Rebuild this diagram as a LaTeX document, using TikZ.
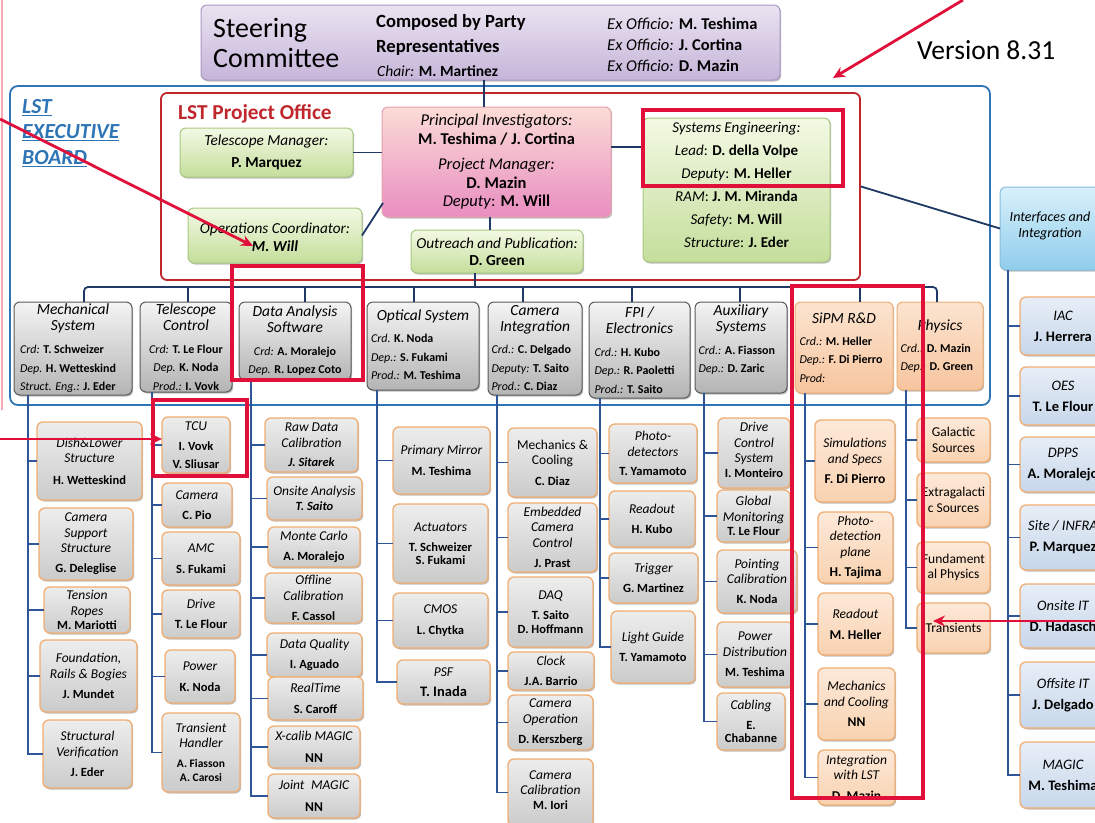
\documentclass[tikz,border=0pt]{standalone}
\usepackage{fontspec}
\setmainfont{Carlito}
\usetikzlibrary{shadows,arrows.meta,calc}
\definecolor{navy}{HTML}{1F3864}
\definecolor{colblue}{HTML}{2F5597}
\definecolor{boardblue}{HTML}{2E75B6}
\definecolor{pored}{HTML}{C0272D}
\definecolor{hlred}{HTML}{E0103A}
\definecolor{orbord}{HTML}{F0AE72}
\definecolor{hdrbord}{HTML}{5A5A5A}
\definecolor{hdrtop}{HTML}{F4F4F4}
\definecolor{hdrbot}{HTML}{B4B4B4}
\definecolor{subtop}{HTML}{EDEDED}
\definecolor{subbot}{HTML}{CBCBCB}
\definecolor{otop}{HTML}{FDE9D9}
\definecolor{obot}{HTML}{F9D2B0}
\definecolor{ohtop}{HTML}{FCE4D0}
\definecolor{ohbot}{HTML}{F7C59E}
\definecolor{btop}{HTML}{E7EEF7}
\definecolor{bbot}{HTML}{C7D7EA}
\definecolor{gtop}{HTML}{F3F9E4}
\definecolor{gbot}{HTML}{C4DE9B}
\definecolor{gbord}{HTML}{A8C882}
\definecolor{pitop}{HTML}{FBDCD6}
\definecolor{pibot}{HTML}{E98DC0}
\definecolor{pibord}{HTML}{E4A0AE}
\definecolor{sttop}{HTML}{EAE3F1}
\definecolor{stbot}{HTML}{C6B5D9}
\definecolor{stbord}{HTML}{A998C2}
\definecolor{iftop}{HTML}{D8F0FB}
\definecolor{ifbot}{HTML}{8FCDEB}
\definecolor{ifbord}{HTML}{86BEDC}
\definecolor{pinkline}{HTML}{F5A9B0}
\newcommand{\ttl}[1]{{\itshape #1}}
\newcommand{\nme}[1]{{\fontsize{12.5}{14}\selectfont\bfseries #1}}
\newcommand{\nmi}[1]{{\fontsize{12.5}{14}\selectfont\bfseries\itshape #1}}
\newcommand{\nmb}[1]{{\fontsize{13.5}{15}\selectfont\bfseries #1}}
\newcommand{\nmr}[1]{{\fontsize{14.5}{15}\selectfont\bfseries #1}}
\newcommand{\hbody}[2]{\makebox[#1][l]{\fontsize{12}{14}\selectfont #2}}
\newcommand{\cbody}[1]{{\fontsize{12}{14}\selectfont #1}}
\newcommand{\ix}[1]{\textit{#1}}
\newcommand{\bfx}[1]{\textbf{#1}}
\newcommand{\bx}[9][0]{%
  \node[#3, minimum width={(#7)-(#5)}, minimum height={(#8)-(#6)}] (#2) at ({((#5)+(#7))/2},{((#6)+(#8))/2}) {};
  \node[#4] (#2-t) at ({((#5)+(#7))/2},{((#6)+(#8))/2+(#1)}) {#9};}
\tikzset{
  basebox/.style={rounded corners=6pt, inner sep=0pt, outer sep=0pt,
    drop shadow={shadow xshift=1.2pt, shadow yshift=-1.5pt, opacity=0.25, fill=black}},
  hdrbox/.style={basebox, draw=hdrbord, line width=1pt, top color=hdrtop, bottom color=hdrbot},
  subbox/.style={basebox, draw=orbord, line width=1.3pt, top color=subtop, bottom color=subbot},
  osubbox/.style={basebox, draw=orbord, line width=1.3pt, top color=otop, bottom color=obot},
  ohdrbox/.style={basebox, draw=orbord, line width=1pt, top color=ohtop, bottom color=ohbot},
  bsubbox/.style={basebox, draw=orbord, line width=1.3pt, top color=btop, bottom color=bbot},
  gbox/.style={basebox, draw=gbord, line width=1pt, top color=gtop, bottom color=gbot},
  pibox/.style={basebox, draw=pibord, line width=1pt, top color=pitop, bottom color=pibot},
  steerbox/.style={basebox, draw=stbord, line width=1pt, top color=sttop, bottom color=stbot},
  ifbox/.style={basebox, draw=ifbord, line width=1pt, top color=iftop, bottom color=ifbot},
  boardbox/.style={draw=boardblue, line width=1.8pt, rounded corners=8pt, inner sep=0pt},
  pobox/.style={draw=pored, line width=1.8pt, rounded corners=6pt, inner sep=0pt},
  subt/.style={align=center, inner sep=0pt, font=\fontsize{13.5}{15.5}\selectfont},
  hdrt/.style={align=center, inner sep=0pt, font=\fontsize{15.5}{18.5}\selectfont},
  topt/.style={align=center, inner sep=0pt, font=\fontsize{15.3}{22}\selectfont},
  sety/.style={align=center, inner sep=0pt, font=\fontsize{15}{23}\selectfont},
  pit/.style={align=center, inner sep=0pt, font=\fontsize{16.5}{18.5}\selectfont},
  ift/.style={align=center, inner sep=0pt, font=\fontsize{14}{16}\selectfont},
  bsubt/.style={align=center, inner sep=0pt, font=\fontsize{14.5}{15.5}\selectfont},
  conn/.style={draw=navy, line width=1.8pt},
  cline/.style={draw=colblue, line width=1.8pt},
  hlbox/.style={draw=hlred, line width=4pt},
  redarrow/.style={draw=hlred, line width=2.8pt, -{Stealth[length=12pt,width=11pt]}},
}
\begin{document}
\begin{tikzpicture}[x=1pt,y=-1pt]
\useasboundingbox (0,0) rectangle (1095,822);
\clip (0,0) rectangle (1095,822);
\fill[white] (0,0) rectangle (1095,822);
\draw[pinkline, line width=1.2pt] (2,0) -- (2,410);

% frames
\bx{board}{boardbox}{subt}{10}{86}{990}{405}{}
\bx{po}{pobox}{subt}{161}{93}{860}{280}{}
\node[anchor=west, align=left, inner sep=0pt, text=boardblue, font=\fontsize{21.5}{25.5}\selectfont\bfseries\itshape] (lstexec) at (22,133) {\underline{LST}\\\underline{EXECUTIVE}\\\underline{BOARD}};
\node[anchor=west, inner sep=0pt, text=pored, font=\fontsize{21.3}{24}\selectfont\bfseries] (potitle) at (178,114) {LST Project Office};

% steering committee
\bx{steer}{steerbox}{subt}{201}{5}{780}{80}{}
\node[anchor=west, align=left, inner sep=0pt, font=\fontsize{28}{30}\selectfont] (steertitle) at (213,43) {Steering\\Committee};
\node[anchor=west, align=left, inner sep=0pt, font=\fontsize{18.6}{25}\selectfont\bfseries] (composed) at (376,35) {Composed by Party\\Representatives};
\node[anchor=west, inner sep=0pt, font=\fontsize{15.5}{17}\selectfont] (chair) at (377,71) {\ix{Chair:} \bfx{M. Martinez}};
\node[anchor=west, align=left, inner sep=0pt, font=\fontsize{16.5}{21}\selectfont] (exoff) at (607,45) {\ix{Ex Officio:} \bfx{M. Teshima}\\\ix{Ex Officio:} \bfx{J. Cortina}\\\ix{Ex Officio:} \bfx{D. Mazin}};
\node[anchor=west, inner sep=0pt, font=\fontsize{27.5}{30}\selectfont] (version) at (917,50) {Version 8.31};

% project office
\bx{tm}{gbox}{topt}{180}{128}{353}{177}{\ttl{Telescope Manager:}\\\bfx{P. Marquez}}
\bx[1.5]{ops}{gbox}{topt}{188}{208}{362}{263}{\ttl{Operations Coordinator:}\\[-4pt]{\bfseries\itshape M. Will}}
\bx{pi}{pibox}{pit}{382}{107}{611}{217}{\ttl{Principal Investigators:}\\\bfx{M. Teshima / J. Cortina}\\[7pt]\ttl{Project Manager:}\\\bfx{D. Mazin}\\\ix{Deputy}: \bfx{M. Will}}
\bx{outreach}{gbox}{topt}{411}{230}{583}{273}{\ttl{Outreach and Publication:}\\[-5pt]\bfx{D. Green}}
\bx[-5.5]{se}{gbox}{sety}{643}{118}{830}{262}{\ttl{Systems Engineering:}\\\ix{Lead}: \bfx{D. della Volpe}\\\ix{Deputy}: \bfx{M. Heller}\\\ix{RAM}: \bfx{J. M. Miranda}\\\ix{Safety}: \bfx{M. Will}\\\ix{Structure}: \bfx{J. Eder}}
\bx[-2.5]{iface}{ifbox}{ift}{1000}{187}{1100}{270}{\ttl{Interfaces and}\\\ttl{Integration}}

% headers
\bx{mech}{hdrbox}{hdrt}{14}{302}{132}{395}{\ttl{Mechanical}\\[-2.5pt]\ttl{System}\\[4.5pt]\hbody{106pt}{\ix{Crd:} \bfx{T. Schweizer}}\\\hbody{106pt}{\ix{Dep.} \bfx{H. Wetteskind}}\\\hbody{106pt}{\ix{Struct. Eng.:} \bfx{J. Eder}}}
\bx{telctl}{hdrbox}{hdrt}{140}{302}{232}{392}{\ttl{Telescope}\\[-3pt]\ttl{Control}\\[4.5pt]\cbody{\ix{Crd:} \bfx{T. Le Flour}}\\\cbody{\ix{Dep.} \bfx{K. Noda}}\\\cbody{\ix{Prod.:} \bfx{I. Vovk}}}
\bx{das}{hdrbox}{hdrt}{239}{302}{351}{380}{\ttl{Data Analysis}\\[-2.5pt]\ttl{Software}\\[4pt]\cbody{\ix{Crd:} \bfx{A. Moralejo}}\\\cbody{\ix{Dep.} \bfx{R. Lopez Coto}}}
\bx[-1]{optical}{hdrbox}{hdrt}{367}{302}{479}{390}{\ttl{Optical System}\\[3.5pt]\hbody{104pt}{\ix{Crd.} \bfx{K. Noda}}\\\hbody{104pt}{\ix{Dep.:} \bfx{S. Fukami}}\\\hbody{104pt}{\ix{Prod.:} \bfx{M. Teshima}}}
\bx{camint}{hdrbox}{hdrt}{488}{302}{582}{395}{\ttl{Camera}\\[-2.5pt]\ttl{Integration}\\[3.5pt]\hbody{87pt}{\ix{Crd.:} \bfx{C. Delgado}}\\\hbody{87pt}{\ix{Deputy:} \bfx{T. Saito}}\\\hbody{87pt}{\ix{Prod.:} \bfx{C. Diaz}}}
\bx{fpi}{hdrbox}{hdrt}{589}{302}{690}{398}{\ttl{FPI /}\\[-2.5pt]\ttl{Electronics}\\[4.5pt]\hbody{90pt}{\ix{Crd.:} \bfx{H. Kubo}}\\\hbody{90pt}{\ix{Dep.:} \bfx{R. Paoletti}}\\\hbody{90pt}{\ix{Prod.:} \bfx{T. Saito}}}
\bx[-8]{aux}{hdrbox}{hdrt}{695}{302}{787}{393}{\ttl{Auxiliary}\\[-2.5pt]\ttl{Systems}\\[4.5pt]\hbody{85pt}{\ix{Crd.:} \bfx{A. Fiasson}}\\\hbody{85pt}{\ix{Dep.:} \bfx{D. Zaric}}}
\bx{sipm}{ohdrbox}{hdrt}{795}{302}{893}{393}{\ttl{SiPM R\&D}\\[3.5pt]\hbody{89pt}{\ix{Crd.:} \bfx{M. Heller}}\\\hbody{89pt}{\ix{Dep.:} \bfx{F. Di Pierro}}\\\hbody{89pt}{\ix{Prod:}}}
\bx{physics}{ohdrbox}{hdrt}{897}{302}{983}{390}{\ttl{Physics}\\[3.5pt]\hbody{79pt}{\ix{Crd.:} \bfx{D. Mazin}}\\\hbody{79pt}{\ix{Dep.:} \bfx{D. Green}}}

% mechanical
\bx{dish}{subbox}{subt}{37}{422}{142}{500}{\ttl{Dish\&Lower}\\\ttl{Structure}\\[6pt]\nme{H. Wetteskind}}
\bx{camsup}{subbox}{subt}{39}{508}{133}{580}{\ttl{Camera}\\\ttl{Support}\\\ttl{Structure}\\[4.5pt]\nme{G. Deleglise}}
\bx{tension}{subbox}{subt}{44}{587}{130}{633}{\ttl{Tension}\\\ttl{Ropes}\\[-1pt]\nme{M. Mariotti}}
\bx{found}{subbox}{subt}{40}{640}{137}{712}{\ttl{Foundation,}\\\ttl{Rails \& Bogies}\\[5pt]\nme{J. Mundet}}
\bx{structv}{subbox}{subt}{43}{720}{132}{788}{\ttl{Structural}\\\ttl{Verification}\\[5pt]\nme{J. Eder}}
% telescope control
\bx{tcu}{subbox}{subt}{162}{417}{230}{473}{\ttl{TCU}\\[5pt]\nme{I. Vovk}\\[2pt]\nme{V. Sliusar}}
\bx{camera}{subbox}{subt}{162}{483}{232}{527}{\ttl{Camera}\\[5pt]\nme{C. Pio}}
\bx{amc}{subbox}{subt}{162}{532}{240}{585}{\ttl{AMC}\\[5pt]\nme{S. Fukami}}
\bx{drive}{subbox}{subt}{162}{590}{240}{638}{\ttl{Drive}\\[5pt]\nme{T. Le Flour}}
\bx{power}{subbox}{subt}{165}{650}{235}{703}{\ttl{Power}\\[5pt]\nme{K. Noda}}
\bx{transh}{subbox}{subt}{162}{713}{240}{792}{\ttl{Transient}\\\ttl{Handler}\\[4pt]{\fontsize{11.5}{13}\selectfont\bfseries A. Fiasson}\\[-1pt]{\fontsize{11.5}{13}\selectfont\bfseries A. Carosi}}
% data analysis
\bx{rawdata}{subbox}{subt}{265}{418}{358}{472}{\ttl{Raw Data}\\\ttl{Calibration}\\[4pt]\nmi{J. Sitarek}}
\bx{onsite}{subbox}{subt}{267}{477}{362}{520}{\ttl{Onsite Analysis}\\\nmi{T. Saito}}
\bx{mc}{subbox}{subt}{268}{527}{360}{567}{\ttl{Monte Carlo}\\[5pt]\nme{A. Moralejo}}
\bx{offline}{subbox}{subt}{265}{573}{362}{623}{\ttl{Offline}\\\ttl{Calibration}\\[5pt]\nme{F. Cassol}}
\bx{dq}{subbox}{subt}{267}{633}{362}{677}{\ttl{Data Quality}\\[5pt]\nme{I. Aguado}}
\bx{rt}{subbox}{subt}{268}{677}{363}{720}{\ttl{RealTime}\\[5pt]\nme{S. Caroff}}
\bx{xcalib}{subbox}{subt}{268}{726}{360}{768}{\ttl{X-calib MAGIC}\\[6pt]\nmb{NN}}
\bx{joint}{subbox}{subt}{268}{774}{360}{818}{\ttl{Joint\enspace MAGIC}\\[6pt]\nmb{NN}}
% optical
\bx{pm}{subbox}{subt}{393}{427}{490}{494}{\ttl{Primary Mirror}\\[5pt]\nme{M. Teshima}}
\bx{act}{subbox}{subt}{393}{504}{488}{583}{\ttl{Actuators}\\[5pt]\nme{T. Schweizer}\\[-2.5pt]\nme{S. Fukami}}
\bx{cmos}{subbox}{subt}{393}{593}{488}{648}{\ttl{CMOS}\\[5pt]\nme{L. Chytka}}
\bx{psf}{subbox}{subt}{397}{660}{490}{704}{\ttl{PSF}\\[5pt]\nmr{T. Inada}}
% camera integration
\bx{mechcool}{subbox}{subt}{508}{428}{597}{497}{Mechanics \&\\Cooling\\[5pt]\nme{C. Diaz}}
\bx{ecc}{subbox}{subt}{508}{503}{597}{572}{\ttl{Embedded}\\\ttl{Camera}\\\ttl{Control}\\[5pt]\nme{J. Prast}}
\bx{daq}{subbox}{subt}{508}{577}{593}{647}{\ttl{DAQ}\\[5pt]\nme{T. Saito}\\[-2pt]\nme{D. Hoffmann}}
\bx{clock}{subbox}{subt}{508}{652}{594}{690}{\ttl{Clock}\\[5pt]\nme{J.A. Barrio}}
\bx{camop}{subbox}{subt}{508}{695}{593}{750}{\ttl{Camera}\\\ttl{Operation}\\[5pt]\nme{D. Kerszberg}}
\bx[-2.5]{camcal}{subbox}{subt}{508}{759}{593}{826}{\ttl{Camera}\\\ttl{Calibration}\\[-1pt]\nme{M. Iori}}
% FPI
\bx{photodet}{subbox}{subt}{609}{424}{697}{483}{\ttl{Photo-}\\\ttl{detectors}\\[4pt]\nme{T. Yamamoto}}
\bx{freadout}{subbox}{subt}{609}{491}{695}{547}{\ttl{Readout}\\[5pt]\nme{H. Kubo}}
\bx{trigger}{subbox}{subt}{609}{553}{698}{603}{\ttl{Trigger}\\[5pt]\nme{G. Martinez}}
\bx{lguide}{subbox}{subt}{611}{611}{695}{683}{\ttl{Light Guide}\\[5pt]\nme{T. Yamamoto}}
% auxiliary
\bx[-3]{dcs}{subbox}{subt}{718}{418}{790}{488}{\ttl{Drive}\\\ttl{Control}\\\ttl{System}\\[-1pt]\nme{I. Monteiro}}
\bx{globmon}{subbox}{subt}{717}{490}{790}{542}{\ttl{Global}\\\ttl{Monitoring}\\[-1pt]\nme{T. Le Flour}}
\bx{pointing}{subbox}{subt}{717}{550}{797}{613}{\ttl{Pointing}\\\ttl{Calibration}\\[4.5pt]\nme{K. Noda}}
\bx{powerdist}{subbox}{subt}{717}{622}{793}{687}{\ttl{Power}\\\ttl{Distribution}\\[5pt]\nme{M. Teshima}}
\bx{cabling}{subbox}{subt}{717}{693}{785}{750}{\ttl{Cabling}\\[4pt]\nme{E.}\\[-2pt]\nme{Chabanne}}
% SiPM
\bx{sim}{osubbox}{subt}{815}{420}{895}{502}{\ttl{Simulations}\\\ttl{and Specs}\\[5pt]\nmb{F. Di Pierro}}
\bx{pdp}{osubbox}{subt}{818}{512}{893}{583}{\ttl{Photo-}\\\ttl{detection}\\\ttl{plane}\\[5pt]\nmb{H. Tajima}}
\bx{sreadout}{osubbox}{subt}{818}{593}{893}{655}{\ttl{Readout}\\[5.5pt]\nmb{M. Heller}}
\bx{smech}{osubbox}{subt}{818}{668}{895}{740}{\ttl{Mechanics}\\\ttl{and Cooling}\\[5pt]\nmb{NN}}
\bx{integ}{osubbox}{subt}{818}{750}{895}{805}{\ttl{Integration}\\\ttl{with LST}\\[5pt]\nmb{D. Mazin}}
% physics
\bx{gal}{osubbox}{subt}{917}{418}{990}{462}{Galactic\\Sources}
\bx{extra}{osubbox}{subt}{917}{473}{990}{527}{Extragalacti\\c Sources}
\bx{fund}{osubbox}{subt}{917}{542}{990}{593}{Fundament\\al Physics}
\bx{transients}{osubbox}{subt}{917}{603}{990}{653}{Transients}
% interfaces
\bx{iac}{bsubbox}{bsubt}{1020}{297}{1106}{355}{\ttl{IAC}\\[5.5pt]\nmr{J. Herrera}}
\bx{oes}{bsubbox}{bsubt}{1020}{367}{1106}{425}{\ttl{OES}\\[5.5pt]\nmr{T. Le Flour}}
\bx{dpps}{bsubbox}{bsubt}{1020}{437}{1106}{492}{\ttl{DPPS}\\[5.5pt]\nmr{A. Moralejo}}
\bx{site}{bsubbox}{bsubt}{1020}{505}{1106}{570}{\ttl{Site / INFRA}\\[5.5pt]\nmr{P. Marquez}}
\bx{onsiteit}{bsubbox}{bsubt}{1020}{584}{1106}{648}{\ttl{Onsite IT}\\[5.5pt]\nmr{D. Hadasch}}
\bx{offsiteit}{bsubbox}{bsubt}{1020}{662}{1106}{728}{\ttl{Offsite IT}\\[5.5pt]\nmr{J. Delgado}}
\bx{magic}{bsubbox}{bsubt}{1020}{742}{1106}{808}{\ttl{MAGIC}\\[5.5pt]\nmr{M. Teshima}}

% connectors: top
\coordinate (stx) at (484,0);
\coordinate (pox) at (490,0);
\draw[conn] (stx |- steer.south) -- (stx |- pi.north);
\draw[conn] (tm.east) -- (tm.east -| pi.west);
\draw[conn] (ops.east) -- ($(pi.south west)+(1,-14)$);
\draw[conn] ([yshift=15pt]pi.east) -- ([yshift=15pt]pi.east -| se.west);
\draw[conn] (pox |- pi.south) -- (pox |- outreach.north);
\draw[conn] (po.east) -- (iface.west);
% bus
\coordinate (bus0) at (475,287);
\coordinate (bus1) at (84,287);
\coordinate (bus2) at (188,287);
\coordinate (bus3) at (305,287);
\coordinate (bus4) at (414,287);
\coordinate (bus5) at (523,287);
\coordinate (bus6) at (632,287);
\coordinate (bus7) at (740,287);
\coordinate (bus8) at (860,287);
\coordinate (bus9) at (937,287);
\draw[conn] (bus0 |- outreach.south) -- (bus0);
\draw[conn, rounded corners=4pt] (bus1 |- mech.north) -- (bus1) -- (bus9) -- (bus9 |- physics.north);
\foreach \b/\h in {bus2/telctl, bus3/das, bus4/optical, bus5/camint, bus6/fpi, bus7/aux, bus8/sipm}
  \draw[conn] (\b) -- (\b |- \h.north);
% column lines
\coordinate (c1) at (28,0);
\coordinate (c2) at (152,0);
\coordinate (c3) at (251,0);
\coordinate (c4) at (377,0);
\coordinate (c5) at (497,0);
\coordinate (c6) at (600,0);
\coordinate (c7) at (704,0);
\coordinate (c8) at (805,0);
\coordinate (c9) at (906,0);
\coordinate (cR) at (1008,0);
\foreach \n in {dish,camsup,tension,found,structv} \draw[cline] (c1 |- mech.south) |- (\n.west);
\foreach \n in {tcu,camera,amc,drive,power,transh} \draw[cline] (c2 |- telctl.south) |- (\n.west);
\foreach \n in {rawdata,onsite,mc,offline,dq,rt,xcalib,joint} \draw[cline] (c3 |- das.south) |- (\n.west);
\foreach \n in {pm,act,cmos,psf} \draw[cline] (c4 |- optical.south) |- (\n.west);
\foreach \n in {mechcool,ecc,daq,clock,camop,camcal} \draw[cline] (c5 |- camint.south) |- (\n.west);
\foreach \n in {photodet,freadout,trigger,lguide} \draw[cline] (c6 |- fpi.south) |- (\n.west);
\foreach \n in {dcs,globmon,pointing,powerdist,cabling} \draw[cline] (c7 |- aux.south) |- (\n.west);
\foreach \n in {sim,pdp,sreadout,smech,integ} \draw[cline] (c8 |- sipm.south) |- (\n.west);
\foreach \n in {gal,extra,fund,transients} \draw[cline] (c9 |- physics.south) |- (\n.west);
\foreach \n in {iac,oes,dpps,site,onsiteit,offsiteit,magic} \draw[cline] (cR |- iface.south) |- (\n.west);

% highlights
\draw[hlbox] (232,266) rectangle (363,380);
\draw[hlbox] (643,110) rectangle (843,186);
\draw[hlbox] (153,400) rectangle (247,476);
\draw[hlbox] (792,286) rectangle (923,798);
% red arrows
\coordinate (a1s) at (0,119);
\coordinate (a1e) at (253,246);
\coordinate (a2s) at (963,0);
\coordinate (a2e) at (833,78);
\coordinate (a3s) at (0,439);
\coordinate (a4s) at (1095,621);
\coordinate (a4e) at (933,621);
\draw[redarrow] (a1s) -- (a1e);
\draw[redarrow] (a2s) -- (a2e);
\draw[redarrow] (a3s) -- ([yshift=6pt]tcu.west);
\draw[redarrow] (a4s) -- (a4e);
\end{tikzpicture}
\end{document}
